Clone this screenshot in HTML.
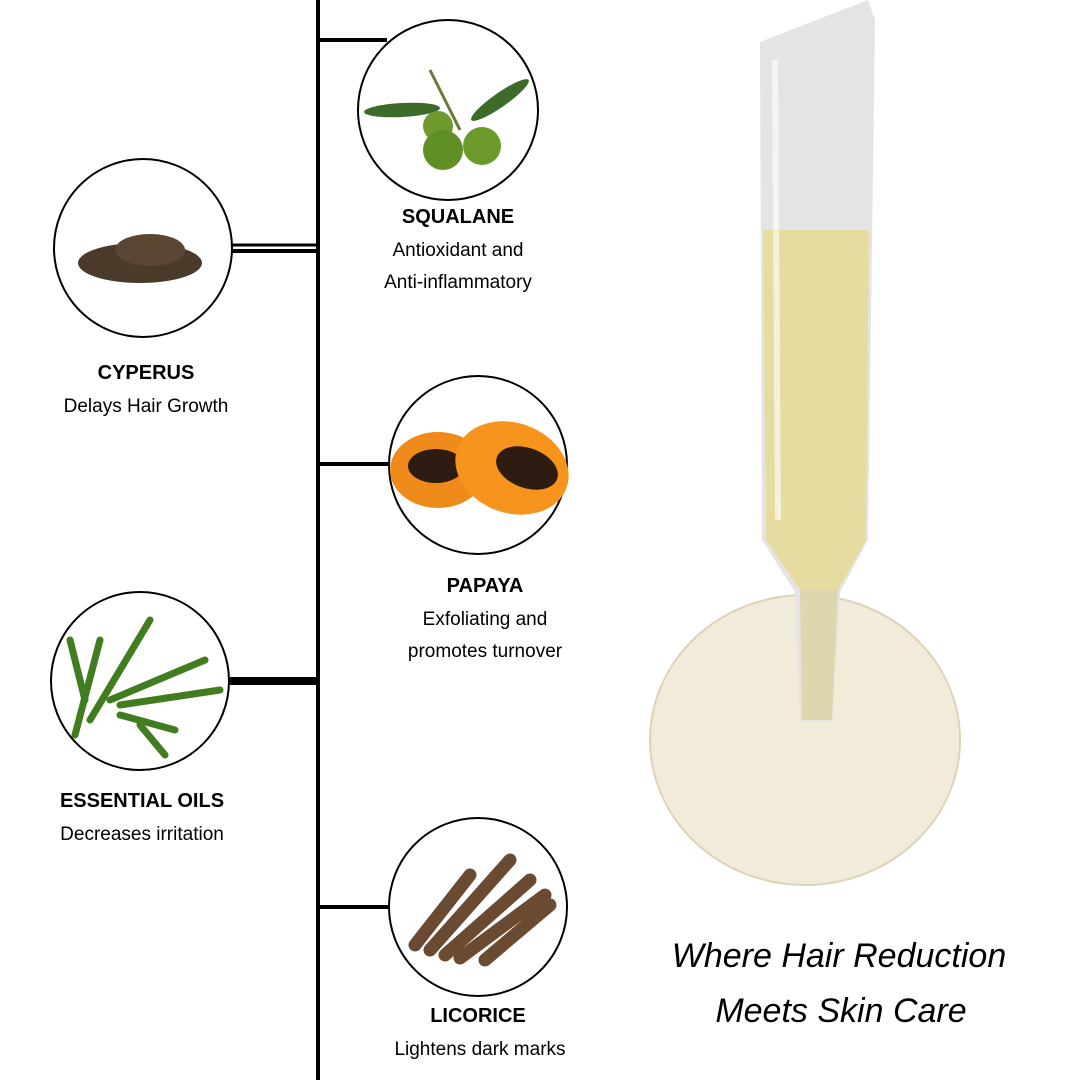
<!DOCTYPE html>
<html><head><style>
html,body{margin:0;padding:0;background:#fff}
svg text{font-family:"Liberation Sans",sans-serif}
</style></head><body>
<svg width="1080" height="1080" viewBox="0 0 1080 1080" xmlns="http://www.w3.org/2000/svg">
<rect width="1080" height="1080" fill="#fff"/>
<g stroke="#000" fill="none">
<line x1="318" y1="0" x2="318" y2="1080" stroke-width="4"/>
<line x1="318" y1="40" x2="387" y2="40" stroke-width="4"/>
<line x1="232" y1="245" x2="318" y2="245" stroke-width="3"/>
<line x1="232" y1="251" x2="318" y2="251" stroke-width="4"/>
<line x1="318" y1="464" x2="389" y2="464" stroke-width="4"/>
<line x1="230" y1="681" x2="318" y2="681" stroke-width="8"/>
<line x1="318" y1="907" x2="389" y2="907" stroke-width="4"/>
</g>
<g stroke="#000" stroke-width="2" fill="#fff">
<circle cx="448" cy="110" r="90"/>
<circle cx="143" cy="248" r="89"/>
<circle cx="478" cy="465" r="89"/>
<circle cx="140" cy="681" r="89"/>
<circle cx="478" cy="907" r="89"/>
</g>
<ellipse cx="402" cy="110" rx="38" ry="7" fill="#3c6b2a" transform="rotate(-3 402 110)"/>
<ellipse cx="500" cy="100" rx="35" ry="7" fill="#3c6b2a" transform="rotate(-35 500 100)"/>
<line x1="430" y1="70" x2="460" y2="130" stroke="#6b7a3a" stroke-width="3"/>
<circle cx="438" cy="126" r="15" fill="#6e9a2e"/>
<circle cx="443" cy="150" r="20" fill="#5f8f25"/>
<circle cx="482" cy="146" r="19" fill="#6a9a2a"/>
<ellipse cx="140" cy="263" rx="62" ry="20" fill="#4a3a2a"/>
<ellipse cx="150" cy="250" rx="35" ry="16" fill="#5a4632"/>
<ellipse cx="438" cy="470" rx="48" ry="38" fill="#f08a1a"/>
<ellipse cx="436" cy="466" rx="28" ry="17" fill="#2e1c12"/>
<ellipse cx="512" cy="468" rx="58" ry="45" fill="#f7941d" transform="rotate(20 512 468)"/>
<ellipse cx="527" cy="468" rx="32" ry="20" fill="#2e1c12" transform="rotate(20 527 468)"/>
<g stroke="#3f7d1f" stroke-width="7" stroke-linecap="round">
<line x1="75" y1="735" x2="100" y2="640"/><line x1="90" y1="720" x2="150" y2="620"/>
<line x1="110" y1="700" x2="205" y2="660"/><line x1="120" y1="705" x2="220" y2="690"/>
<line x1="120" y1="715" x2="175" y2="730"/><line x1="140" y1="725" x2="165" y2="755"/>
<line x1="85" y1="700" x2="70" y2="640"/>
</g>
<g stroke="#6b4a32" stroke-width="13" stroke-linecap="round">
<line x1="415" y1="945" x2="470" y2="875"/><line x1="430" y1="950" x2="510" y2="860"/>
<line x1="445" y1="955" x2="530" y2="880"/><line x1="460" y1="958" x2="545" y2="895"/>
<line x1="485" y1="960" x2="550" y2="905"/>
</g>
<g font-size="19" fill="#000" text-anchor="middle">
<text x="458" y="223" font-weight="bold" font-size="20">SQUALANE</text>
<text x="458" y="256">Antioxidant and</text>
<text x="458" y="288">Anti-inflammatory</text>
<text x="146" y="379" font-weight="bold" font-size="20">CYPERUS</text>
<text x="146" y="412">Delays Hair Growth</text>
<text x="485" y="592" font-weight="bold" font-size="20">PAPAYA</text>
<text x="485" y="625">Exfoliating and</text>
<text x="485" y="657">promotes turnover</text>
<text x="142" y="807" font-weight="bold" font-size="20">ESSENTIAL OILS</text>
<text x="142" y="840">Decreases irritation</text>
<text x="478" y="1022" font-weight="bold" font-size="20">LICORICE</text>
<text x="480" y="1055">Lightens dark marks</text>
</g>
<g font-size="34" font-style="italic" fill="#000" text-anchor="middle">
<text x="839" y="967">Where Hair Reduction</text>
<text x="841" y="1022">Meets Skin Care</text>
</g>
<ellipse cx="805" cy="740" rx="155" ry="145" fill="#f1ebd9" stroke="#ddd3b8" stroke-width="2"/>
<path d="M760 42 L868 0 L875 20 L868 540 L840 592 L832 722 L800 722 L795 592 L762 540 Z" fill="#e4e4e4"/>
<path d="M763 230 L869 230 L866 540 L838 590 L800 590 L766 540 Z" fill="#e6dca0"/>
<path d="M800 590 L838 590 L832 720 L802 720 Z" fill="#e0d6ae"/>
<line x1="775" y1="60" x2="778" y2="520" stroke="#fff" stroke-width="6" opacity="0.6"/>
</svg>
</body></html>
